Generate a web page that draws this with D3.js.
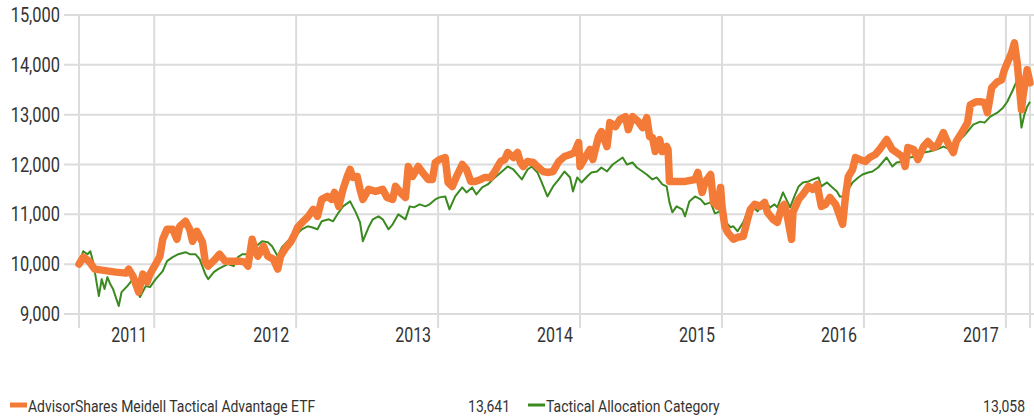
<!DOCTYPE html>
<html>
<head>
<meta charset="utf-8">
<script src="https://cdn.jsdelivr.net/npm/d3@7"></script>
<style>
  body { margin: 0; background: #fff; }
  text { font-family: Roboto, "Liberation Sans", sans-serif; fill: #333; }
</style>
</head>
<body>
<div id="chart"></div>
<script>
/**
 * DATA (decimal years, growth of 10,000)
 * */
const etfYears = [
  2011.47,2011.50,2011.54,2011.58,2011.63,2011.73,2011.80,2011.82,2011.85,2011.89,2011.92,2011.95,2011.97,
  2012.01,2012.04,2012.06,2012.09,2012.13,2012.16,2012.18,2012.22,2012.25,2012.27,2012.30,2012.34,2012.36,2012.38,2012.43,2012.46,2012.50,2012.55,2012.60,2012.64,2012.66,2012.69,2012.71,2012.73,2012.77,2012.80,2012.84,2012.87,2012.89,2012.92,2012.96,2012.99,
  2013.01,2013.05,2013.08,2013.12,2013.15,2013.18,2013.22,2013.25,2013.27,2013.30,2013.33,2013.36,2013.38,2013.40,2013.43,2013.45,2013.47,2013.51,2013.56,2013.61,2013.64,2013.68,2013.70,2013.74,2013.77,2013.79,2013.82,2013.86,2013.89,2013.93,2013.96,2013.98,
  2014.01,2014.05,2014.07,2014.10,2014.13,2014.17,2014.20,2014.23,2014.26,2014.30,2014.33,2014.37,2014.40,2014.44,2014.47,2014.49,2014.53,2014.56,2014.58,2014.60,2014.63,2014.67,2014.70,2014.74,2014.77,2014.81,2014.85,2014.89,2014.93,2014.96,2014.99,
  2015.00,2015.04,2015.07,2015.09,2015.13,2015.15,2015.19,2015.21,2015.25,2015.28,2015.32,2015.34,2015.37,2015.41,2015.44,2015.47,2015.49,2015.51,2015.53,2015.56,2015.58,2015.61,2015.62,2015.63,2015.67,2015.74,2015.81,2015.83,2015.86,2015.88,2015.92,2015.94,2015.97,2015.99,
  2016.00,2016.02,2016.04,2016.08,2016.11,2016.15,2016.18,2016.20,2016.23,2016.27,2016.30,2016.32,2016.36,2016.39,2016.42,2016.44,2016.46,2016.49,2016.50,2016.54,2016.57,2016.61,2016.64,2016.67,2016.70,2016.73,2016.76,2016.80,2016.82,2016.85,2016.87,2016.89,2016.92,2016.94,2016.97,
  2017.01,2017.04,2017.08,2017.11,2017.16,2017.20,2017.23,2017.27,2017.29,2017.31,2017.35,2017.38,2017.42,2017.45,2017.49,2017.52,2017.56,2017.59,2017.63,2017.65,2017.69,2017.73,2017.75,2017.79,2017.82,2017.85,2017.87,2017.90,2017.94,2017.97,2017.99,
  2018.01,2018.04,2018.06,2018.08,2018.11,2018.12,2018.15,2018.17
];
const etfValues = [
  10000,10140,10060,9900,9880,9840,9820,9900,9760,9440,9800,9640,9800,
  10000,10160,10500,10700,10700,10500,10760,10860,10700,10460,10660,10440,10040,9960,10100,10200,10060,10060,10060,10040,9960,10500,10300,10160,10360,10160,10100,9900,10160,10300,10440,10600,
  10740,10860,10940,11100,10960,11300,11360,11300,11440,11160,11500,11760,11900,11740,11760,11500,11300,11500,11460,11500,11340,11300,11560,11420,11340,11960,11760,11960,11840,11700,11700,12040,
  12100,12140,11640,11560,11760,12000,11900,11660,11660,11700,11740,11740,11860,12060,12100,12240,12140,12240,12040,11960,12060,12040,11960,11860,11840,11860,12060,12160,12200,12240,12440,
  11960,12160,12300,12100,12560,12660,12360,12840,12760,12900,12960,12700,12960,12860,12740,12940,12560,12540,12260,12500,12260,12360,12300,11660,11660,11660,11700,11840,11440,11640,11800,11240,11160,11540,
  11160,10760,10640,10500,10540,10560,10900,11100,11200,11160,11240,11040,10900,10840,11140,11200,10960,10500,11040,11300,11400,11560,11500,11600,11160,11200,11340,11200,11040,10800,11360,11760,11900,12140,12100,
  12060,12140,12200,12300,12500,12300,12240,12160,11960,12340,12300,12100,12360,12460,12340,12400,12640,12440,12240,12460,12640,12840,13200,13260,13260,13240,13040,13540,13660,13700,13900,
  14040,14240,14440,14040,13100,13360,13900,13641
];

const catYears = [
  2011.47,2011.50,2011.53,2011.55,2011.57,2011.61,2011.63,2011.65,2011.67,2011.69,2011.71,2011.75,2011.77,2011.81,2011.85,2011.88,2011.90,2011.94,2011.97,
  2012.01,2012.06,2012.09,2012.13,2012.17,2012.22,2012.25,2012.29,2012.32,2012.36,2012.38,2012.42,2012.45,2012.49,2012.52,2012.56,2012.59,2012.62,2012.66,2012.71,2012.76,2012.80,2012.83,2012.87,2012.90,2012.94,2012.99,
  2013.04,2013.08,2013.11,2013.15,2013.18,2013.23,2013.26,2013.30,2013.33,2013.38,2013.42,2013.45,2013.47,2013.51,2013.54,2013.58,2013.61,2013.65,2013.68,2013.72,2013.77,2013.80,2013.83,2013.87,2013.91,2013.94,2013.98,
  2014.01,2014.05,2014.08,2014.12,2014.17,2014.20,2014.24,2014.27,2014.31,2014.35,2014.40,2014.45,2014.49,2014.53,2014.56,2014.59,2014.63,2014.66,2014.70,2014.73,2014.77,2014.81,2014.85,2014.89,2014.93,2014.95,2014.98,
  2015.01,2015.05,2015.08,2015.12,2015.15,2015.19,2015.23,2015.26,2015.30,2015.33,2015.37,2015.40,2015.44,2015.47,2015.51,2015.54,2015.58,2015.61,2015.63,2015.65,2015.68,2015.72,2015.74,2015.77,2015.81,2015.85,2015.88,2015.92,2015.95,2015.97,
  2016.00,2016.02,2016.06,2016.08,2016.11,2016.15,2016.18,2016.22,2016.25,2016.30,2016.34,2016.37,2016.39,2016.43,2016.46,2016.48,2016.51,2016.54,2016.57,2016.61,2016.64,2016.68,2016.70,2016.74,2016.77,2016.81,2016.83,2016.85,2016.89,2016.92,2016.96,2016.99,
  2017.03,2017.06,2017.10,2017.13,2017.16,2017.20,2017.23,2017.28,2017.32,2017.37,2017.42,2017.46,2017.51,2017.56,2017.61,2017.65,2017.70,2017.73,2017.77,2017.82,2017.85,2017.89,2017.94,2017.98,
  2018.01,2018.05,2018.08,2018.09,2018.11,2018.13,2018.15,2018.17
];
const catValues = [
  10000,10260,10200,10260,10040,9360,9700,9500,9740,9600,9500,9160,9440,9560,9700,9460,9340,9560,9540,
  9700,9860,10060,10140,10200,10240,10200,10200,10100,9800,9700,9840,9900,9960,10000,9960,10140,10200,10200,10340,10460,10440,10360,10160,10340,10460,10560,
  10700,10760,10740,10700,10860,10900,10860,11040,11160,11260,11040,10840,10460,10740,10900,10960,10900,10700,10800,11000,10900,11160,11140,11200,11160,11200,11300,
  11340,11360,11100,11360,11540,11440,11540,11400,11540,11600,11740,11860,11960,11900,11800,11700,11900,11960,11840,11640,11360,11560,11700,11860,11740,11460,11740,
  11640,11760,11840,11860,11940,11860,12000,12060,12140,12000,12040,11940,11860,11800,11700,11740,11600,11560,11240,11040,11160,11100,10960,11260,11360,11300,11200,11240,11020,11040,
  11100,10860,10740,10760,10660,10840,11060,11140,11060,11260,11140,11200,11140,11440,11260,11140,11360,11560,11640,11660,11700,11740,11560,11640,11560,11460,11360,11360,11500,11640,11740,11800,
  11840,11860,11940,12040,12140,11960,12040,12060,12140,12160,12240,12260,12300,12360,12300,12440,12560,12660,12800,12860,12840,12960,13040,13140,
  13260,13500,13700,13360,12740,13000,13160,13260
];

const yTicks = [9000, 10000, 11000, 12000, 13000, 14000, 15000];
const yearBreaks = [2012, 2013, 2014, 2015, 2016, 2017, 2018];
const seriesNames = ["AdvisorShares Meidell Tactical Advantage ETF", "Tactical Allocation Category"];
const seriesEnd = [13641, 13058];

/**
 * CONSTANTS
 * */
const width = 1034, height = 418;
const orange = "#f47b37", green = "#3a8a20", grid = "#dcdcdc";
const narrow = 0.82; // squeeze glyphs to get the condensed look

const svg = d3.select("#chart").append("svg")
  .attr("width", width)
  .attr("height", height);

const x = d3.scaleLinear().domain([2011.47, 2018.17]).range([79, 1030]);
const y = d3.scaleLinear().domain([9000, 15000]).range([314, 15]);

function condense(sel) {
  sel.each(function () {
    const w = this.getComputedTextLength();
    d3.select(this)
      .attr("textLength", w * narrow)
      .attr("lengthAdjust", "spacingAndGlyphs");
  });
}

// horizontal grid + y labels
svg.selectAll(".hgrid")
  .data(yTicks)
  .join("line")
  .attr("x1", 64).attr("x2", width)
  .attr("y1", d => y(d)).attr("y2", d => y(d))
  .attr("stroke", grid).attr("stroke-width", 2);

svg.selectAll(".ylab")
  .data(yTicks)
  .join("text")
  .attr("x", 60)
  .attr("y", d => y(d) + 7)
  .attr("text-anchor", "end")
  .style("font-size", "20px")
  .text(d3.format(","))
  .call(condense);

// vertical grid: start, year breaks, end
const vLines = [x.domain()[0], ...yearBreaks, x.domain()[1]];
svg.selectAll(".vgrid")
  .data(vLines)
  .join("line")
  .attr("x1", d => x(d)).attr("x2", d => x(d))
  .attr("y1", y(15000)).attr("y2", 328)
  .attr("stroke", grid).attr("stroke-width", 2);

// year labels sit just left of the break ending that year
svg.selectAll(".xlab")
  .data(yearBreaks)
  .join("text")
  .attr("x", d => x(d) - 7)
  .attr("y", 342)
  .attr("text-anchor", "end")
  .style("font-size", "19.5px")
  .text(d => d - 1)
  .call(condense);

// lines
const line = d3.line()
  .x(d => x(d[0]))
  .y(d => y(d[1]));

svg.append("path")
  .datum(d3.zip(catYears, catValues))
  .attr("fill", "none")
  .attr("stroke", green)
  .attr("stroke-width", 2)
  .attr("stroke-linejoin", "round")
  .attr("d", line);

svg.append("path")
  .datum(d3.zip(etfYears, etfValues))
  .attr("fill", "none")
  .attr("stroke", orange)
  .attr("stroke-width", 7.5)
  .attr("stroke-linejoin", "round")
  .attr("stroke-linecap", "round")
  .attr("d", line);

// legend
const legend = [
  { name: seriesNames[0], value: seriesEnd[0], color: orange, w: 5, x0: 10, vx: 510 },
  { name: seriesNames[1], value: seriesEnd[1], color: green, w: 3, x0: 528, vx: 1025 }
];

const lg = svg.selectAll(".leg")
  .data(legend)
  .join("g");

lg.append("line")
  .attr("x1", d => d.x0).attr("x2", d => d.x0 + 17)
  .attr("y1", 405).attr("y2", 405)
  .attr("stroke", d => d.color)
  .attr("stroke-width", d => d.w);

lg.append("text")
  .attr("x", d => d.x0 + 18)
  .attr("y", 412)
  .style("font-size", "17px")
  .text(d => d.name)
  .call(condense);

lg.append("text")
  .attr("x", d => d.vx)
  .attr("y", 412)
  .attr("text-anchor", "end")
  .style("font-size", "17px")
  .text(d => d3.format(",")(d.value))
  .call(condense);
</script>
</body>
</html>
